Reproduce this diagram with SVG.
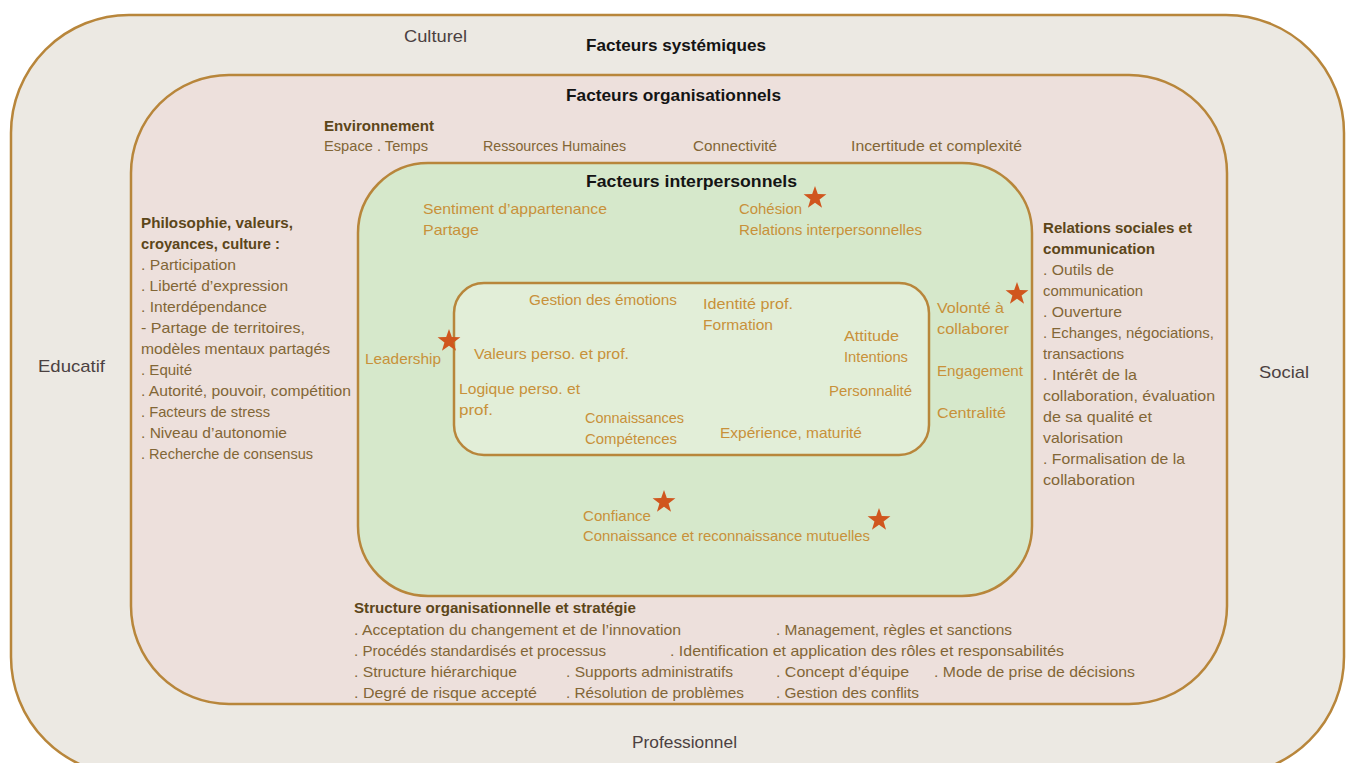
<svg xmlns="http://www.w3.org/2000/svg" width="1346" height="763" viewBox="0 0 1346 763">
<defs>
<style>
.box{stroke:#B8863B;stroke-width:2.5}
.t{font-family:"Liberation Sans",Arial,sans-serif;font-size:15px}
.ttl{font-family:"Liberation Sans",Arial,sans-serif;font-size:16.5px;font-weight:bold;fill:#141414}
.lbl{font-family:"Liberation Sans",Arial,sans-serif;font-size:17px;fill:#4B4141}
.org{fill:#826636}
.orgh{fill:#5C4619;font-weight:bold}
.ip{fill:#C8913A}
.star{fill:#D0561E}
</style>
<polygon id="star" points="0,-12 2.82,-3.88 11.41,-3.71 4.56,1.48 7.05,9.71 0,4.8 -7.05,9.71 -4.56,1.48 -11.41,-3.71 -2.82,-3.88"/>
</defs>
<rect width="1346" height="763" fill="#FFFFFF"/>

<g id="systemiques">
<rect class="box" x="11" y="15" width="1333" height="760" rx="118" fill="#ECE9E3"/>
<text class="lbl" x="404" y="42" textLength="63" lengthAdjust="spacingAndGlyphs">Culturel</text>
<text class="ttl" x="586" y="51" textLength="180" lengthAdjust="spacingAndGlyphs">Facteurs systémiques</text>
<text class="lbl" x="38" y="372" textLength="67" lengthAdjust="spacingAndGlyphs">Educatif</text>
<text class="lbl" x="1259" y="378" textLength="50" lengthAdjust="spacingAndGlyphs">Social</text>
<text class="lbl" x="632" y="748" textLength="105" lengthAdjust="spacingAndGlyphs">Professionnel</text>
</g>

<g id="organisationnels">
<rect class="box" x="131" y="75" width="1096" height="629" rx="98" fill="#EDE0DC"/>
<text class="ttl" x="566" y="101" textLength="215" lengthAdjust="spacingAndGlyphs">Facteurs organisationnels</text>
<text class="t orgh" x="324" y="131" textLength="110" lengthAdjust="spacingAndGlyphs">Environnement</text>
<text class="t org" x="324" y="151" textLength="104" lengthAdjust="spacingAndGlyphs">Espace . Temps</text>
<text class="t org" x="483" y="151" textLength="143" lengthAdjust="spacingAndGlyphs">Ressources Humaines</text>
<text class="t org" x="693" y="151" textLength="84" lengthAdjust="spacingAndGlyphs">Connectivité</text>
<text class="t org" x="851" y="151" textLength="171" lengthAdjust="spacingAndGlyphs">Incertitude et complexité</text>

<g id="philosophie">
<text class="t orgh" x="141" y="228" textLength="152" lengthAdjust="spacingAndGlyphs">Philosophie, valeurs,</text>
<text class="t orgh" x="141" y="249" textLength="139" lengthAdjust="spacingAndGlyphs">croyances, culture :</text>
<text class="t org" x="141" y="270" textLength="95" lengthAdjust="spacingAndGlyphs">. Participation</text>
<text class="t org" x="141" y="291" textLength="147" lengthAdjust="spacingAndGlyphs">. Liberté d’expression</text>
<text class="t org" x="141" y="312" textLength="126" lengthAdjust="spacingAndGlyphs">. Interdépendance</text>
<text class="t org" x="141" y="333" textLength="164" lengthAdjust="spacingAndGlyphs">- Partage de territoires,</text>
<text class="t org" x="141" y="354" textLength="189" lengthAdjust="spacingAndGlyphs">modèles mentaux partagés</text>
<text class="t org" x="141" y="375" textLength="51" lengthAdjust="spacingAndGlyphs">. Equité</text>
<text class="t org" x="141" y="396" textLength="210" lengthAdjust="spacingAndGlyphs">. Autorité, pouvoir, compétition</text>
<text class="t org" x="141" y="417" textLength="129" lengthAdjust="spacingAndGlyphs">. Facteurs de stress</text>
<text class="t org" x="141" y="438" textLength="146" lengthAdjust="spacingAndGlyphs">. Niveau d’autonomie</text>
<text class="t org" x="141" y="459" textLength="172" lengthAdjust="spacingAndGlyphs">. Recherche de consensus</text>
</g>

<g id="relations-sociales">
<text class="t orgh" x="1043" y="233" textLength="149" lengthAdjust="spacingAndGlyphs">Relations sociales et</text>
<text class="t orgh" x="1043" y="254" textLength="112" lengthAdjust="spacingAndGlyphs">communication</text>
<text class="t org" x="1043" y="275" textLength="71" lengthAdjust="spacingAndGlyphs">. Outils de</text>
<text class="t org" x="1043" y="296" textLength="100" lengthAdjust="spacingAndGlyphs">communication</text>
<text class="t org" x="1043" y="317" textLength="79" lengthAdjust="spacingAndGlyphs">. Ouverture</text>
<text class="t org" x="1043" y="338" textLength="171" lengthAdjust="spacingAndGlyphs">. Echanges, négociations,</text>
<text class="t org" x="1043" y="359" textLength="81" lengthAdjust="spacingAndGlyphs">transactions</text>
<text class="t org" x="1043" y="380" textLength="94" lengthAdjust="spacingAndGlyphs">. Intérêt de la</text>
<text class="t org" x="1043" y="401" textLength="172" lengthAdjust="spacingAndGlyphs">collaboration, évaluation</text>
<text class="t org" x="1043" y="422" textLength="109" lengthAdjust="spacingAndGlyphs">de sa qualité et</text>
<text class="t org" x="1043" y="443" textLength="80" lengthAdjust="spacingAndGlyphs">valorisation</text>
<text class="t org" x="1043" y="464" textLength="142" lengthAdjust="spacingAndGlyphs">. Formalisation de la</text>
<text class="t org" x="1043" y="485" textLength="92" lengthAdjust="spacingAndGlyphs">collaboration</text>
</g>

<g id="structure">
<text class="t orgh" x="354" y="613" textLength="282" lengthAdjust="spacingAndGlyphs">Structure organisationnelle et stratégie</text>
<text class="t org" x="354" y="635" textLength="327" lengthAdjust="spacingAndGlyphs">. Acceptation du changement et de l’innovation</text>
<text class="t org" x="776" y="635" textLength="236" lengthAdjust="spacingAndGlyphs">. Management, règles et sanctions</text>
<text class="t org" x="354" y="656" textLength="252" lengthAdjust="spacingAndGlyphs">. Procédés standardisés et processus</text>
<text class="t org" x="670" y="656" textLength="394" lengthAdjust="spacingAndGlyphs">. Identification et application des rôles et responsabilités</text>
<text class="t org" x="354" y="677" textLength="163" lengthAdjust="spacingAndGlyphs">. Structure hiérarchique</text>
<text class="t org" x="566" y="677" textLength="167" lengthAdjust="spacingAndGlyphs">. Supports administratifs</text>
<text class="t org" x="776" y="677" textLength="133" lengthAdjust="spacingAndGlyphs">. Concept d’équipe</text>
<text class="t org" x="934" y="677" textLength="201" lengthAdjust="spacingAndGlyphs">. Mode de prise de décisions</text>
<text class="t org" x="354" y="698" textLength="183" lengthAdjust="spacingAndGlyphs">. Degré de risque accepté</text>
<text class="t org" x="566" y="698" textLength="178" lengthAdjust="spacingAndGlyphs">. Résolution de problèmes</text>
<text class="t org" x="776" y="698" textLength="143" lengthAdjust="spacingAndGlyphs">. Gestion des conflits</text>
</g>
</g>

<g id="interpersonnels">
<rect class="box" x="358" y="163" width="674" height="433" rx="70" fill="#D6E8CB"/>
<text class="ttl" x="586" y="187" textLength="211" lengthAdjust="spacingAndGlyphs">Facteurs interpersonnels</text>
<text class="t ip" x="423" y="214" textLength="184" lengthAdjust="spacingAndGlyphs">Sentiment d’appartenance</text>
<text class="t ip" x="423" y="235" textLength="56" lengthAdjust="spacingAndGlyphs">Partage</text>
<text class="t ip" x="739" y="214" textLength="63" lengthAdjust="spacingAndGlyphs">Cohésion</text>
<text class="t ip" x="739" y="235" textLength="183" lengthAdjust="spacingAndGlyphs">Relations interpersonnelles</text>
<text class="t ip" x="365" y="364" textLength="76" lengthAdjust="spacingAndGlyphs">Leadership</text>
<text class="t ip" x="937" y="313" textLength="67" lengthAdjust="spacingAndGlyphs">Volonté à</text>
<text class="t ip" x="937" y="334" textLength="72" lengthAdjust="spacingAndGlyphs">collaborer</text>
<text class="t ip" x="937" y="376" textLength="86" lengthAdjust="spacingAndGlyphs">Engagement</text>
<text class="t ip" x="937" y="418" textLength="69" lengthAdjust="spacingAndGlyphs">Centralité</text>
<text class="t ip" x="583" y="521" textLength="68" lengthAdjust="spacingAndGlyphs">Confiance</text>
<text class="t ip" x="583" y="541" textLength="287" lengthAdjust="spacingAndGlyphs">Connaissance et reconnaissance mutuelles</text>
</g>

<g id="individuels">
<rect class="box" x="454" y="283" width="475" height="172" rx="30" fill="#E2EED8"/>
<text class="t ip" x="529" y="305" textLength="148" lengthAdjust="spacingAndGlyphs">Gestion des émotions</text>
<text class="t ip" x="703" y="309" textLength="90" lengthAdjust="spacingAndGlyphs">Identité prof.</text>
<text class="t ip" x="703" y="330" textLength="70" lengthAdjust="spacingAndGlyphs">Formation</text>
<text class="t ip" x="844" y="341" textLength="55" lengthAdjust="spacingAndGlyphs">Attitude</text>
<text class="t ip" x="844" y="362" textLength="64" lengthAdjust="spacingAndGlyphs">Intentions</text>
<text class="t ip" x="474" y="359" textLength="155" lengthAdjust="spacingAndGlyphs">Valeurs perso. et prof.</text>
<text class="t ip" x="459" y="394" textLength="121" lengthAdjust="spacingAndGlyphs">Logique perso. et</text>
<text class="t ip" x="459" y="415" textLength="34" lengthAdjust="spacingAndGlyphs">prof.</text>
<text class="t ip" x="829" y="396" textLength="83" lengthAdjust="spacingAndGlyphs">Personnalité</text>
<text class="t ip" x="585" y="423" textLength="99" lengthAdjust="spacingAndGlyphs">Connaissances</text>
<text class="t ip" x="585" y="444" textLength="92" lengthAdjust="spacingAndGlyphs">Compétences</text>
<text class="t ip" x="720" y="438" textLength="142" lengthAdjust="spacingAndGlyphs">Expérience, maturité</text>
</g>

<g id="etoiles" class="star">
<use href="#star" x="815" y="198"/>
<use href="#star" x="449" y="341"/>
<use href="#star" x="1017" y="294"/>
<use href="#star" x="664" y="502"/>
<use href="#star" x="879" y="520"/>
</g>
</svg>
